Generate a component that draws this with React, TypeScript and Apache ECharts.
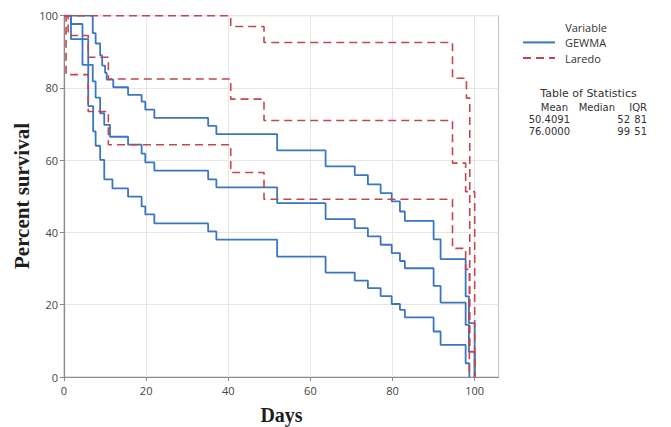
import React, { useEffect, useRef } from "react";
import * as echarts from "echarts";

// Tick values
const xTicks = [0, 20, 40, 60, 80, 100];
const yTicks = [0, 20, 40, 60, 80, 100];

// GEWMA: Kaplan-Meier estimate and 95% CI (days, percent survival)
const gewmaUpperDays = [0, 7.0, 7.7, 8.8, 9.3, 10.0, 10.4, 12.0, 15.6, 18.9, 19.8, 22.0, 35.1, 37.1, 51.9, 63.7, 70.8, 74.0, 77.1, 79.8, 81.8, 83.0, 90.0, 91.7, 97.8, 98.6, 100];
const gewmaUpperPct = [100, 95.2, 92.3, 89.0, 86.2, 84.2, 82.3, 80.2, 78.1, 76.2, 74.0, 71.7, 69.5, 67.2, 62.7, 58.3, 55.9, 53.3, 50.9, 48.6, 45.8, 43.2, 38.1, 32.6, 22.3, 14.9, 0];
const gewmaEstDays = [0, 1.7, 4.5, 7.0, 7.7, 8.8, 9.8, 11.2, 15.6, 18.9, 19.8, 22.0, 35.1, 37.1, 51.9, 63.7, 70.8, 74.0, 77.1, 79.8, 81.8, 83.0, 90.0, 91.7, 97.8, 98.6, 100];
const gewmaEstPct = [100, 97.7, 86.4, 81.8, 77.3, 73.0, 69.8, 66.5, 64.3, 61.8, 59.4, 57.1, 54.7, 52.5, 48.1, 43.7, 41.2, 38.9, 36.6, 34.3, 32.1, 30.1, 25.2, 20.6, 14.4, 7.0, 0];
const gewmaLowerDays = [0, 1.7, 5.9, 7.1, 7.7, 8.8, 9.8, 11.8, 15.6, 18.9, 19.8, 22.0, 35.1, 37.1, 51.9, 63.7, 70.8, 74.0, 77.1, 79.8, 81.8, 83.0, 90.0, 91.7, 97.8, 98.7];
const gewmaLowerPct = [100, 93.5, 75.0, 68.0, 64.0, 60.1, 54.7, 52.2, 49.9, 47.2, 45.0, 42.5, 40.3, 38.0, 33.3, 28.9, 26.7, 24.6, 22.4, 20.2, 18.6, 16.5, 12.6, 8.9, 3.8, 0];

// Laredo: Kaplan-Meier estimate and 95% CI
const laredoUpperDays = [0, 40.6, 48.7, 94.6, 98.0, 98.8, 100];
const laredoUpperPct = [100, 97.0, 92.6, 82.7, 77.2, 7.0, 0];
const laredoEstDays = [0, 1.0, 5.9, 10.8, 40.6, 48.7, 94.6, 97.8, 100];
const laredoEstPct = [100, 94.5, 88.5, 82.5, 76.9, 71.0, 59.2, 51.3, 0];
const laredoLowerDays = [0, 0.5, 5.9, 10.8, 40.6, 48.7, 94.6, 97.8, 98.7];
const laredoLowerPct = [100, 83.7, 73.5, 64.3, 56.6, 49.2, 35.6, 29.8, 0];

// Statistics table
const statHeaders = ["Mean", "Median", "IQR"];
const statGewma = ["50.4091", "52", "81"];
const statLaredo = ["76.0000", "99", "51"];

const BLUE = "#3a77c0";
const RED = "#c4464f";
const UI_FONT = '"Open Sans", "Noto Sans", sans-serif';
const TABLE_FONT = '"DejaVu Sans", "Open Sans", sans-serif';
const TITLE_FONT = '"Liberation Serif", "Times New Roman", serif';

function pairs(days: number[], pct: number[]) {
  return days.map((d, i) => [d, pct[i]]);
}

export default function App() {
  const ref = useRef<HTMLDivElement>(null);

  useEffect(() => {
    document.body.style.margin = "0";
    const chart = echarts.init(ref.current!, null, { renderer: "svg" });

    const blueLine = (name: string, days: number[], pct: number[]) => ({
      name,
      type: "line",
      step: "end",
      symbol: "none",
      data: pairs(days, pct),
      lineStyle: { color: BLUE, width: 1.8 },
      itemStyle: { color: BLUE },
      z: 3,
    });
    const redLine = (name: string, days: number[], pct: number[]) => ({
      name,
      type: "line",
      step: "end",
      symbol: "none",
      data: pairs(days, pct),
      lineStyle: { color: RED, width: 1.6, type: [8, 5] },
      itemStyle: { color: RED },
      z: 4,
    });

    const txt = (
      text: string,
      x: number,
      y: number,
      align: string,
      font = `11px ${UI_FONT}`,
      fill = "#333"
    ) => ({
      type: "text",
      x,
      y,
      silent: true,
      style: {
        text,
        font,
        fill,
        align,
        textAlign: align,
        verticalAlign: "middle",
        textVerticalAlign: "middle",
      },
    });

    const colRightHeader = [568, 615, 647];
    const colRightValue = [570, 630, 647];
    const tableFont = `10px ${TABLE_FONT}`;

    chart.setOption({
      animation: false,
      backgroundColor: "#ffffff",
      grid: {
        left: 64,
        right: 172.5,
        top: 15.7,
        bottom: 50,
        show: true,
        borderColor: "#c4c4c4",
        borderWidth: 1,
        containLabel: false,
      },
      legend: {
        data: ["GEWMA", "Laredo"],
        orient: "vertical",
        left: 517,
        top: 31.8,
        itemWidth: 32,
        itemHeight: 14,
        itemGap: 4.4,
        selectedMode: false,
        itemStyle: { opacity: 0, borderWidth: 0 },
        textStyle: {
          fontFamily: UI_FONT,
          fontSize: 11,
          color: "#333",
          padding: [0, 0, 0, 5],
        },
      },
      xAxis: {
        type: "value",
        min: 0,
        max: 105.8,
        interval: 20,
        axisLine: { show: true, lineStyle: { color: "#8a8a8a", width: 1.2 } },
        axisTick: {
          show: true,
          length: 4,
          customValues: xTicks,
          lineStyle: { color: "#8a8a8a" },
        },
        axisLabel: {
          customValues: xTicks,
          fontFamily: UI_FONT,
          fontSize: 11,
          color: "#444",
          margin: 8,
        },
        splitLine: { show: true, lineStyle: { color: "#e6e6e6", width: 1 } },
      },
      yAxis: {
        type: "value",
        min: 0,
        max: 100,
        interval: 20,
        axisLine: { show: true, lineStyle: { color: "#8a8a8a", width: 1.2 } },
        axisTick: {
          show: true,
          length: 4,
          customValues: yTicks,
          lineStyle: { color: "#8a8a8a" },
        },
        axisLabel: {
          customValues: yTicks,
          fontFamily: UI_FONT,
          fontSize: 11,
          color: "#444",
          margin: 6,
        },
        splitLine: { show: true, lineStyle: { color: "#e6e6e6", width: 1 } },
      },
      series: [
        blueLine("GEWMA", gewmaUpperDays, gewmaUpperPct),
        blueLine("GEWMA", gewmaEstDays, gewmaEstPct),
        blueLine("GEWMA", gewmaLowerDays, gewmaLowerPct),
        redLine("Laredo", laredoUpperDays, laredoUpperPct),
        redLine("Laredo", laredoEstDays, laredoEstPct),
        redLine("Laredo", laredoLowerDays, laredoLowerPct),
      ],
      graphic: [
        {
          type: "text",
          x: 21.5,
          y: 196,
          rotation: Math.PI / 2,
          silent: true,
          style: {
            text: "Percent survival",
            font: `bold 21px ${TITLE_FONT}`,
            fill: "#1e1e1e",
            align: "center",
            textAlign: "center",
            verticalAlign: "middle",
            textVerticalAlign: "middle",
          },
        },
        txt("Days", 281.5, 415, "center", `bold 20px ${TITLE_FONT}`, "#1e1e1e"),
        txt("Variable", 586, 27.5, "center"),
        txt("Table of Statistics", 588.5, 93.5, "center", `11px ${TABLE_FONT}`),
        ...statHeaders.map((h, i) => txt(h, colRightHeader[i], 107.5, "right", tableFont)),
        ...statGewma.map((v, i) => txt(v, colRightValue[i], 119.5, "right", tableFont)),
        ...statLaredo.map((v, i) => txt(v, colRightValue[i], 131.5, "right", tableFont)),
      ],
    });

    return () => chart.dispose();
  }, []);

  return <div ref={ref} style={{ width: 671, height: 427 }} />;
}
